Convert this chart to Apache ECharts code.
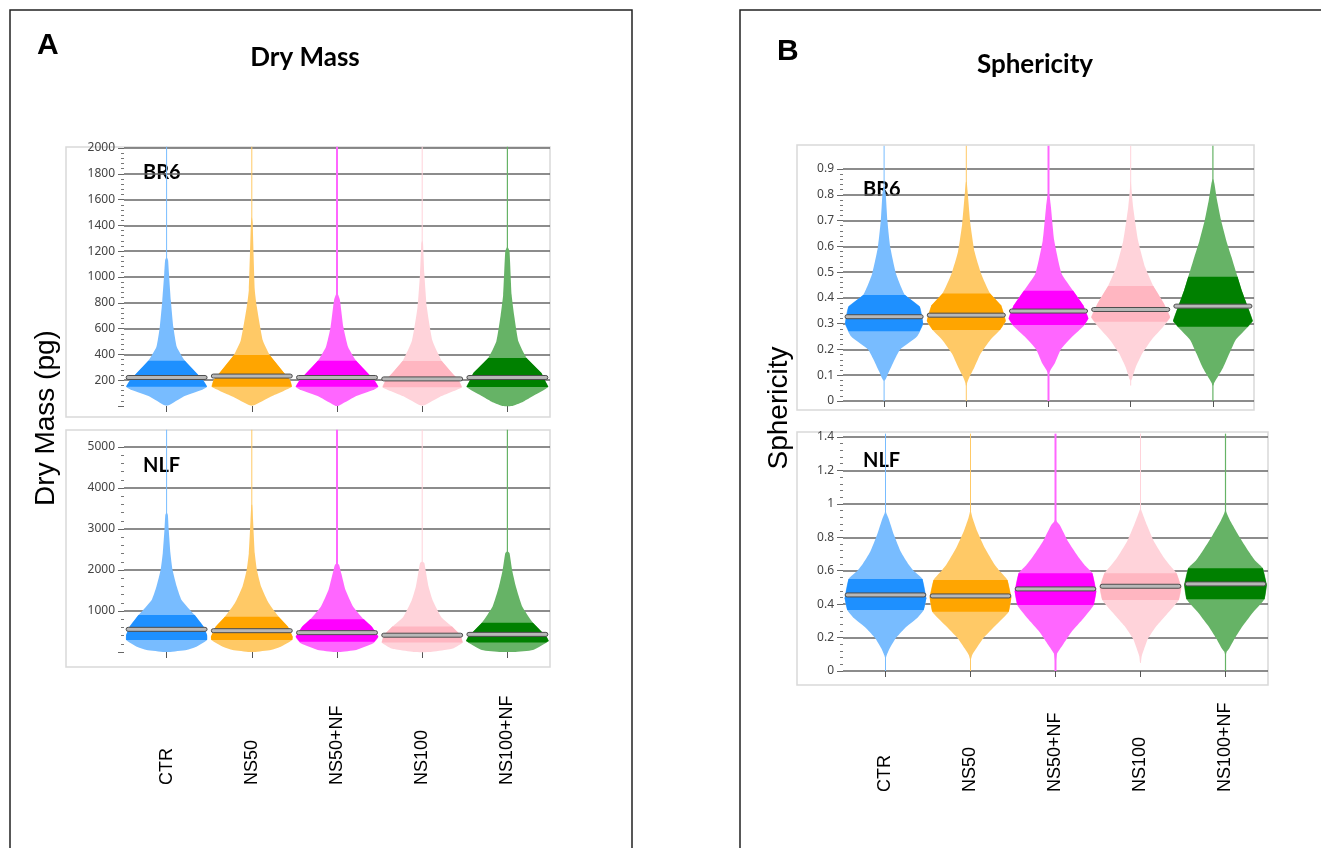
<!DOCTYPE html>
<html>
<head>
<meta charset="utf-8">
<title>Dry Mass / Sphericity</title>
<script src="https://cdn.jsdelivr.net/npm/echarts@6.0.0/dist/echarts.min.js"></script>
<style>
  html, body { margin: 0; padding: 0; background: #fff; }
  #chart { width: 1321px; height: 848px; }
</style>
</head>
<body>
<div id="chart"></div>
<script>
var categories = ['CTR', 'NS50', 'NS50+NF', 'NS100', 'NS100+NF'];
var darkColors = ['#1E90FF', '#FFA500', '#FF00FF', '#FFB6C1', '#008000'];
var lightColors = ['#78BCFF', '#FFC966', '#FF66FF', '#FFD3DA', '#66B366'];
var whiskerWidths = [1, 1, 2, 1, 1.2];

// Dry mass, BR6 : [q1, median, q3], whisker range, density profile [value, relative half width]
var dryBR6Box = [[150, 221, 350], [150, 232, 395], [150, 221, 350], [145, 210, 348], [147, 221, 372]];
var dryBR6Range = [[5, 2010], [5, 2010], [0, 2010], [5, 2010], [0, 2010]];
var dryBR6Shape = [
  [[5, 0.05], [72, 0.39], [124, 0.82], [150, 0.95], [200, 0.86], [255, 0.7], [350, 0.43], [457, 0.24], [612, 0.16], [820, 0.1], [1030, 0.055], [1130, 0.035], [1150, 0.01]],
  [[5, 0.05], [72, 0.44], [150, 0.94], [200, 0.9], [255, 0.76], [395, 0.42], [507, 0.26], [765, 0.12], [900, 0.07], [1420, 0.02], [1460, 0.005]],
  [[0, 0.03], [72, 0.42], [124, 0.85], [150, 0.97], [200, 0.88], [255, 0.72], [350, 0.45], [457, 0.26], [612, 0.15], [820, 0.07], [860, 0.03], [870, 0.01]],
  [[5, 0.05], [72, 0.42], [145, 0.93], [200, 0.86], [255, 0.7], [348, 0.46], [507, 0.24], [765, 0.11], [1030, 0.05], [1260, 0.02], [1280, 0.005]],
  [[0, 0.1], [30, 0.35], [72, 0.57], [147, 0.96], [200, 0.88], [255, 0.8], [372, 0.45], [500, 0.26], [700, 0.16], [860, 0.1], [1200, 0.05], [1230, 0.01]]
];

// Dry mass, NLF
var dryNLFBox = [[293, 553, 902], [293, 520, 860], [250, 472, 800], [230, 410, 620], [230, 430, 715]];
var dryNLFRange = [[0, 5420], [0, 5420], [0, 5420], [0, 5420], [0, 5420]];
var dryNLFShape = [
  [[0, 0.05], [50, 0.47], [130, 0.7], [293, 0.95], [415, 0.95], [618, 0.87], [900, 0.66], [1270, 0.35], [1590, 0.24], [2000, 0.14], [2410, 0.09], [2980, 0.05], [3340, 0.03], [3400, 0.005]],
  [[0, 0.05], [50, 0.45], [130, 0.68], [293, 0.95], [374, 0.96], [618, 0.85], [862, 0.63], [1187, 0.4], [1593, 0.22], [2000, 0.12], [2407, 0.07], [3220, 0.03], [3590, 0.01]],
  [[0, 0.05], [50, 0.45], [212, 0.85], [374, 0.97], [618, 0.82], [797, 0.63], [1105, 0.38], [1512, 0.2], [1919, 0.1], [2122, 0.05], [2150, 0.02]],
  [[0, 0.2], [60, 0.6], [100, 0.75], [230, 0.95], [410, 0.9], [620, 0.7], [850, 0.45], [1250, 0.25], [1590, 0.15], [2000, 0.08], [2170, 0.05], [2200, 0.01]],
  [[0, 0.15], [50, 0.6], [268, 0.97], [374, 0.92], [715, 0.6], [1105, 0.35], [1593, 0.2], [2000, 0.11], [2407, 0.05], [2450, 0.01]]
];

// Sphericity, BR6
var sphBR6Box = [[0.271, 0.327, 0.411], [0.275, 0.333, 0.417], [0.295, 0.349, 0.428], [0.307, 0.355, 0.446], [0.288, 0.368, 0.482]];
var sphBR6Range = [[0, 0.99], [0, 0.99], [0, 0.99], [0.06, 0.99], [0, 0.99]];
var sphBR6Shape = [
  [[0.08, 0.02], [0.088, 0.05], [0.114, 0.12], [0.165, 0.27], [0.2, 0.39], [0.25, 0.8], [0.3, 0.95], [0.366, 0.87], [0.411, 0.51], [0.494, 0.29], [0.597, 0.15], [0.7, 0.08], [0.804, 0.04], [0.83, 0.01]],
  [[0.06, 0.01], [0.07, 0.02], [0.094, 0.08], [0.132, 0.2], [0.184, 0.35], [0.236, 0.58], [0.275, 0.82], [0.31, 0.96], [0.37, 0.85], [0.417, 0.58], [0.494, 0.36], [0.58, 0.2], [0.687, 0.1], [0.817, 0.03], [0.85, 0.01]],
  [[0.11, 0.02], [0.12, 0.05], [0.145, 0.15], [0.2, 0.3], [0.25, 0.58], [0.29, 0.85], [0.32, 0.97], [0.37, 0.85], [0.428, 0.6], [0.494, 0.32], [0.623, 0.14], [0.752, 0.06], [0.79, 0.03], [0.8, 0.01]],
  [[0.08, 0.01], [0.085, 0.03], [0.13, 0.12], [0.184, 0.28], [0.236, 0.5], [0.29, 0.8], [0.325, 0.96], [0.38, 0.8], [0.446, 0.55], [0.52, 0.35], [0.623, 0.18], [0.752, 0.06], [0.82, 0.02], [0.85, 0.005]],
  [[0.06, 0.01], [0.07, 0.03], [0.094, 0.12], [0.13, 0.25], [0.184, 0.4], [0.236, 0.55], [0.275, 0.78], [0.31, 0.97], [0.365, 0.85], [0.43, 0.7], [0.482, 0.6], [0.56, 0.45], [0.62, 0.33], [0.7, 0.2], [0.78, 0.1], [0.84, 0.04], [0.86, 0.01]]
];

// Sphericity, NLF
var sphNLFBox = [[0.365, 0.455, 0.551], [0.355, 0.449, 0.545], [0.395, 0.491, 0.585], [0.425, 0.507, 0.585], [0.43, 0.521, 0.615]];
var sphNLFRange = [[0, 1.42], [0, 1.42], [0, 1.42], [0.05, 1.42], [0, 1.42]];
var sphNLFShape = [
  [[0.08, 0.01], [0.096, 0.03], [0.136, 0.1], [0.196, 0.24], [0.255, 0.45], [0.315, 0.74], [0.365, 0.9], [0.435, 0.96], [0.551, 0.87], [0.6, 0.66], [0.635, 0.55], [0.714, 0.36], [0.814, 0.2], [0.914, 0.07], [0.944, 0.02], [0.96, 0.005]],
  [[0.07, 0.01], [0.096, 0.04], [0.136, 0.14], [0.196, 0.3], [0.275, 0.6], [0.355, 0.9], [0.44, 0.96], [0.545, 0.87], [0.6, 0.68], [0.635, 0.57], [0.734, 0.34], [0.834, 0.16], [0.914, 0.05], [0.944, 0.02], [0.96, 0.005]],
  [[0.06, 0.01], [0.106, 0.04], [0.156, 0.17], [0.235, 0.38], [0.315, 0.66], [0.395, 0.9], [0.475, 0.96], [0.585, 0.87], [0.63, 0.7], [0.675, 0.56], [0.774, 0.3], [0.874, 0.1], [0.894, 0.03], [0.91, 0.005]],
  [[0.05, 0.01], [0.09, 0.03], [0.19, 0.17], [0.27, 0.38], [0.34, 0.62], [0.425, 0.9], [0.5, 0.96], [0.585, 0.85], [0.63, 0.7], [0.675, 0.56], [0.774, 0.32], [0.874, 0.15], [0.955, 0.03], [0.97, 0.005]],
  [[0.1, 0.01], [0.116, 0.03], [0.136, 0.09], [0.196, 0.22], [0.275, 0.42], [0.355, 0.66], [0.431, 0.92], [0.515, 0.97], [0.615, 0.88], [0.66, 0.7], [0.714, 0.55], [0.814, 0.3], [0.894, 0.12], [0.944, 0.03], [0.96, 0.005]]
];

function widthAt(shape, v) {
  for (var k = 1; k < shape.length; k++) {
    if (v <= shape[k][0]) {
      var a = shape[k - 1], b = shape[k];
      return a[1] + (b[1] - a[1]) * (v - a[0]) / (b[0] - a[0]);
    }
  }
  return 0;
}

function violin(boxes, ranges, shapes) {
  return function (params, api) {
    var i = params.dataIndex;
    var half = api.size([1, 0])[0] / 2;
    var cx = api.coord([i, 0])[0];
    var py = function (v) { return api.coord([i, v])[1]; };
    var outline = function (pts) {
      var right = pts.map(function (p) { return [cx + p[1] * half, py(p[0])]; });
      var left = pts.slice().reverse().map(function (p) { return [cx - p[1] * half, py(p[0])]; });
      return right.concat(left);
    };
    var shape = shapes[i];
    var q1 = boxes[i][0], med = boxes[i][1], q3 = boxes[i][2];
    var inner = [[q1, widthAt(shape, q1)]]
      .concat(shape.filter(function (p) { return p[0] > q1 && p[0] < q3; }))
      .concat([[q3, widthAt(shape, q3)]]);
    var my = py(med);
    return {
      type: 'group',
      children: [
        { type: 'line', shape: { x1: cx, y1: py(ranges[i][0]), x2: cx, y2: py(ranges[i][1]) },
          style: { stroke: lightColors[i], lineWidth: whiskerWidths[i] } },
        { type: 'polygon', shape: { points: outline(shape), smooth: 0.15 }, style: { fill: lightColors[i] } },
        { type: 'polygon', shape: { points: outline(inner) }, style: { fill: darkColors[i] } },
        { type: 'rect', shape: { x: cx - half * 0.95, y: my - 2, width: half * 1.9, height: 4, r: 2 },
          style: { fill: '#b8b8b8', stroke: '#4d4d4d', lineWidth: 1 } }
      ]
    };
  };
}

var grids = [
  { left: 124, top: 148, width: 426, height: 258 },
  { left: 124, top: 447, width: 426, height: 205 },
  { left: 843, top: 169, width: 411, height: 232 },
  { left: 843, top: 437, width: 425, height: 234 }
];

function xAxisFor(idx, showLabel, margin) {
  return {
    type: 'category', gridIndex: idx, data: categories,
    axisLine: { show: false },
    axisTick: { show: true, alignWithLabel: true, length: 6, lineStyle: { color: '#555' } },
    axisLabel: {
      show: showLabel, rotate: 90, align: 'left', verticalAlign: 'middle', margin: margin,
      fontSize: 18, color: '#000', fontFamily: 'Liberation Sans'
    },
    splitLine: { show: false }
  };
}

function yAxisFor(idx, max, interval, showZero) {
  return {
    type: 'value', gridIndex: idx, min: 0, max: max, interval: interval,
    axisLine: { show: false },
    axisTick: { show: true, length: 6, lineStyle: { color: '#666' } },
    minorTick: { show: true, splitNumber: 5, length: 3, lineStyle: { color: '#777' } },
    axisLabel: {
      showMinLabel: showZero, fontSize: 12, color: '#444', margin: 9, fontFamily: 'Noto Sans',
      formatter: function (v) { return String(Math.round(v * 100) / 100); }
    },
    splitLine: { show: true, showMinLine: showZero, lineStyle: { color: '#666', width: 1.5 } }
  };
}

function seriesFor(idx, boxes, ranges, shapes) {
  return {
    type: 'custom', xAxisIndex: idx, yAxisIndex: idx, clip: false,
    renderItem: violin(boxes, ranges, shapes),
    encode: { x: 0, y: 1 },
    data: categories.map(function (c, i) { return [i, boxes[i][1]]; }),
    silent: true
  };
}

function frame(x1, y1, x2, y2, color, w) {
  return { type: 'rect', shape: { x: x1, y: y1, width: x2 - x1, height: y2 - y1 },
    style: { fill: null, stroke: color, lineWidth: w }, z: -1 };
}
function label(text, x, y, font, extra) {
  var el = { type: 'text', x: x, y: y, style: { text: text, font: font, fill: '#000', textAlign: 'left', textVerticalAlign: 'middle' } };
  if (extra) { for (var k in extra) el.style[k] = extra[k]; }
  return el;
}

var chart = echarts.init(document.getElementById('chart'));
chart.setOption({
  animation: false,
  backgroundColor: '#fff',
  grid: grids,
  xAxis: [
    xAxisFor(0, false, 0),
    xAxisFor(1, true, 133),
    xAxisFor(2, false, 0),
    xAxisFor(3, true, 121)
  ],
  yAxis: [
    yAxisFor(0, 2000, 200, false),
    yAxisFor(1, 5000, 1000, false),
    yAxisFor(2, 0.9, 0.1, true),
    yAxisFor(3, 1.4, 0.2, true)
  ],
  series: [
    seriesFor(0, dryBR6Box, dryBR6Range, dryBR6Shape),
    seriesFor(1, dryNLFBox, dryNLFRange, dryNLFShape),
    seriesFor(2, sphBR6Box, sphBR6Range, sphBR6Shape),
    seriesFor(3, sphNLFBox, sphNLFRange, sphNLFShape)
  ],
  graphic: [
    frame(10, 10, 632, 870, '#222', 1.5),
    frame(740, 10, 1340, 870, '#222', 1.5),
    frame(66, 147, 550, 417, '#d9d9d9', 1.5),
    frame(66, 430, 550, 667, '#d9d9d9', 1.5),
    frame(797, 145, 1254, 410, '#d9d9d9', 1.5),
    frame(797, 432, 1268, 685, '#d9d9d9', 1.5),
    label('A', 37, 46, 'bold 30px "Liberation Sans"'),
    label('B', 777, 52, 'bold 30px "Liberation Sans"'),
    label('Dry Mass', 305, 58, 'bold 26px Lato', { textAlign: 'center' }),
    label('Sphericity', 1035, 65, 'bold 26px Lato', { textAlign: 'center' }),
    label('BR6', 143, 173, 'bold 20px Lato'),
    label('NLF', 143, 466, 'bold 20px Lato'),
    label('BR6', 863, 190, 'bold 20px Lato'),
    label('NLF', 863, 461, 'bold 20px Lato'),
    { type: 'text', x: 46, y: 418, rotation: Math.PI / 2,
      style: { text: 'Dry Mass (pg)', font: '28px "Liberation Sans"', fill: '#000', textAlign: 'center', textVerticalAlign: 'middle' } },
    { type: 'text', x: 779, y: 408, rotation: Math.PI / 2,
      style: { text: 'Sphericity', font: '28px "Liberation Sans"', fill: '#000', textAlign: 'center', textVerticalAlign: 'middle' } }
  ]
});
</script>
</body>
</html>
